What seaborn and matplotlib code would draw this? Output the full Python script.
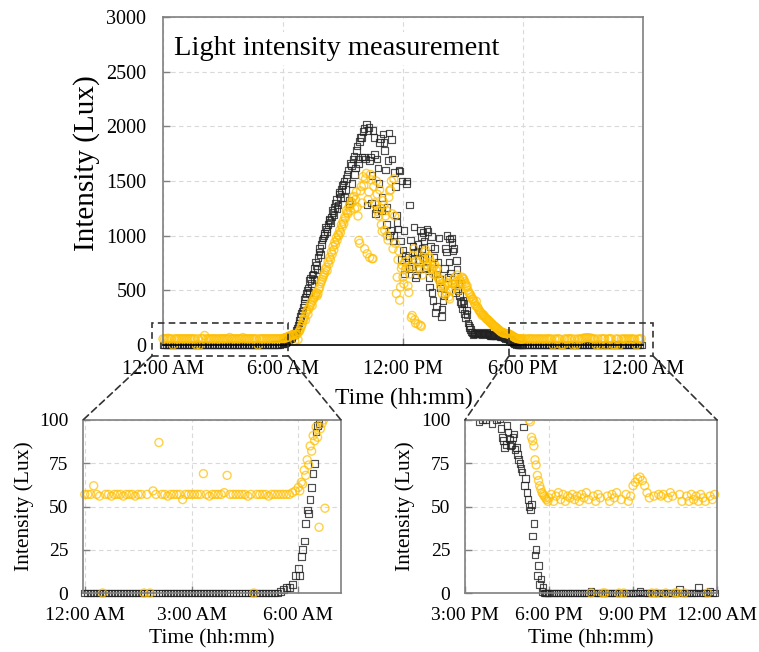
import numpy as np
import pandas as pd
import seaborn as sns
import matplotlib.pyplot as plt
from matplotlib.patches import Rectangle, ConnectionPatch

# sampling clock: one reading every 5 minutes over a day
minutes = np.arange(0, 24 * 60, 5)
# extra daytime readings, taken between the regular ones (6:00 AM - 6:00 PM)
minutes_extra = np.arange(6 * 60, 18 * 60, 5) + 2.5

# black squares, one row per hour (lux)
square_lux = [
    0, 0, 0, 0, 0, 0, 0, 0, 0, 0, 0, 0,
    0, 0, 0, 0, 0, 0, 0, 0, 0, 0, 0, 0,
    0, 0, 0, 0, 0, 0, 0, 0, 0, 0, 0, 0,
    0, 0, 0, 0, 0, 0, 0, 0, 0, 0, 0, 0,
    0, 0, 0, 0, 0, 0, 0, 0, 0, 0, 0, 0,
    0, 0, 0, 0, 0, 0, 1, 2, 3, 3, 5, 10,
    14, 21, 30, 48, 54, 69, 93, 98, 130, 180, 230, 290,
    340, 420, 470, 520, 590, 560, 650, 700, 730, 800, 880, 920,
    980, 1020, 1060, 1100, 1140, 1170, 1210, 1260, 1330, 1280, 1380, 1420,
    1470, 1350, 1520, 1600, 1290, 1640, 1700, 1560, 1780, 1700, 1860, 1900,
    1950, 1720, 2020, 1960, 1690, 1300, 1960, 1740, 1250, 1620, 1850, 1230,
    1930, 1780, 1100, 1690, 1000, 1880, 950, 1580, 1190, 1060, 1590, 780,
    870, 650, 1480, 800, 1280, 720, 900, 850, 640, 920, 780, 990,
    1030, 800, 710, 1040, 530, 990, 410, 880, 350, 760, 600, 260,
    410, 700, 850, 620, 970, 980, 860, 560, 770, 500, 450, 380,
    410, 290, 320, 200, 160, 120, 99, 105, 110, 100, 108, 102,
    110, 104, 112, 101, 90, 84, 97, 89, 86, 92, 84, 77,
    72, 96, 66, 54, 48, 33, 22, 10, 5, 1, 0, 0,
    0, 0, 0, 0, 0, 0, 0, 0, 0, 0, 0, 0,
    0, 0, 0, 0, 0, 0, 1, 0, 0, 0, 0, 0,
    0, 0, 0, 0, 0, 0, 0, 0, 0, 0, 0, 0,
    0, 0, 0, 1, 0, 0, 0, 0, 0, 0, 0, 0,
    0, 0, 0, 0, 0, 0, 0, 0, 2, 0, 0, 0,
    0, 0, 0, 0, 3, 0, 0, 0, 0, 1, 0, 0,
]

# yellow circles, one row per hour (lux)
circle_lux = [
    57, 57, 57, 62, 57, 56, 0, 57, 57, 56, 57, 57,
    57, 56, 57, 57, 57, 56, 57, 57, 0, 57, 0, 59,
    57, 87, 57, 57, 56, 57, 57, 57, 57, 54, 57, 57,
    57, 57, 57, 57, 69, 57, 56, 57, 57, 57, 57, 58,
    68, 57, 57, 57, 57, 57, 57, 56, 57, 0, 57, 57,
    57, 57, 56, 57, 57, 57, 57, 57, 57, 57, 58, 59,
    61, 64, 71, 77, 85, 91, 96, 38, 98, 49, 130, 170,
    220, 260, 300, 280, 350, 390, 410, 440, 480, 470, 530, 580,
    620, 660, 710, 760, 800, 850, 900, 940, 980, 1010, 1050, 1100,
    1130, 1170, 1230, 1200, 1280, 1310, 1350, 1250, 1400, 1180, 930, 1450,
    1540, 880, 1570, 1330, 800, 1510, 790, 1300, 1500, 1220, 1420, 1100,
    1320, 1050, 1230, 960, 1410, 1500, 880, 1180, 470, 780, 410, 700,
    620, 760, 710, 540, 650, 250, 820, 230, 770, 190, 690, 170,
    800, 850, 760, 720, 790, 700, 650, 740, 680, 620, 590, 560,
    600, 540, 480, 560, 420, 500, 560, 620, 580, 540, 600, 560,
    610, 580, 530, 500, 470, 440, 420, 380, 400, 340, 310, 290,
    280, 260, 240, 230, 215, 200, 185, 170, 160, 145, 130, 120,
    110, 108, 104, 102, 99, 88, 77, 68, 62, 58, 56, 54,
    55, 57, 53, 56, 58, 54, 57, 53, 56, 55, 57, 54,
    56, 53, 57, 55, 58, 54, 0, 56, 53, 57, 55, 0,
    0, 56, 53, 57, 55, 58, 0, 54, 0, 57, 53, 56,
    62, 64, 66, 67, 65, 62, 58, 55, 0, 56, 0, 57,
    56, 57, 0, 55, 58, 56, 0, 0, 57, 53, 0, 56,
    53, 57, 54, 56, 53, 57, 55, 53, 0, 56, 54, 57,
]

# extra daytime readings, one row per hour from 6 AM to 5 PM (lux)
square_extra = [
    10, 25, 40, 46, 61, 75, 97, 110, 150, 200, 260, 310,
    380, 440, 500, 480, 610, 640, 600, 760, 690, 850, 830, 960,
    1000, 1080, 1040, 1150, 1120, 1230, 1190, 1300, 1250, 1400, 1350, 1460,
    1500, 1420, 1560, 1320, 1660, 1480, 1730, 1620, 1820, 1660, 1900, 1720,
    1980, 1700, 1280, 1990, 1720, 1550, 1900, 1200, 1700, 1480, 1890, 1350,
    1850, 1600, 1260, 1940, 1050, 1700, 1000, 1450, 1120, 1600, 950, 1500,
    1050, 820, 1500, 700, 960, 780, 1080, 620, 850, 700, 1050, 880,
    950, 700, 1060, 620, 900, 480, 800, 300, 650, 980, 520, 330,
    450, 880, 1000, 760, 660, 940, 880, 480, 690, 560, 400, 330,
    380, 250, 280, 180, 140, 115, 102, 100, 106, 112, 103, 98,
    107, 100, 110, 95, 88, 86, 93, 85, 90, 83, 80, 75,
    70, 62, 58, 50, 51, 40, 25, 16, 8, 3, 0, 0,
]

circle_extra = [
    59, 63, 68, 74, 82, 88, 90, 95, 100, 120, 150, 190,
    240, 230, 320, 330, 370, 360, 430, 460, 450, 510, 560, 600,
    640, 690, 680, 740, 780, 830, 870, 920, 960, 1000, 1030, 1080,
    1110, 1160, 1210, 1260, 1230, 1300, 1360, 1330, 1260, 957, 1410, 1300,
    1460, 1520, 835, 1400, 1560, 789, 1450, 1280, 1380, 1180, 1250, 1040,
    1280, 1180, 1000, 1350, 1420, 1200, 1520, 930, 620, 860, 530, 730,
    560, 690, 770, 480, 720, 270, 880, 200, 710, 750, 180, 640,
    780, 870, 730, 810, 760, 690, 720, 640, 700, 600, 540, 470,
    520, 460, 570, 440, 500, 560, 600, 530, 640, 500, 580, 620,
    600, 560, 540, 480, 460, 420, 400, 360, 350, 320, 300, 270,
    270, 250, 235, 220, 205, 190, 175, 165, 150, 140, 125, 115,
    110, 105, 103, 100, 90, 85, 74, 65, 60, 57, 55, 53,
]

main_ticks = [0, 6, 12, 18, 24]
main_ticklabels = ["12:00 AM", "6:00 AM", "12:00 PM", "6:00 PM", "12:00 AM"]
left_ticks = [0, 3, 6]
left_ticklabels = ["12:00 AM", "3:00 AM", "6:00 AM"]
right_ticks = [15, 18, 21, 24]
right_ticklabels = ["3:00 PM", "6:00 PM", "9:00 PM", "12:00 AM"]

df = pd.concat([
    pd.DataFrame({"hour": minutes / 60.0, "square": square_lux, "circle": circle_lux}),
    pd.DataFrame({"hour": minutes_extra / 60.0, "square": square_extra, "circle": circle_extra}),
]).sort_values("hour")

sns.set_style("whitegrid")
plt.rcParams["font.family"] = ["Liberation Serif", "DejaVu Serif"]
plt.rcParams["text.color"] = "black"
plt.rcParams["axes.labelcolor"] = "black"

GRAY = "#808080"
DASH = (0, (4, 2.5))


def draw_points(ax):
    sns.scatterplot(data=df, x="hour", y="square", ax=ax, marker="s", s=23,
                    facecolor="none", edgecolor="#222222", linewidth=0.85, alpha=0.8)
    sns.scatterplot(data=df, x="hour", y="circle", ax=ax, marker="o", s=33,
                    facecolor="none", edgecolor="#ffbf00", linewidth=1.0, alpha=0.72)


def style_axes(ax, fs, xpad, ypad):
    ax.grid(True, linestyle=(0, (4, 3)), color="#d9d9d9", linewidth=0.8)
    ax.set_axisbelow(True)
    for sp in ax.spines.values():
        sp.set_color(GRAY)
        sp.set_linewidth(1.2)
    ax.tick_params(direction="in", length=5, color=GRAY, width=1,
                   left=True, bottom=True, labelsize=fs, labelcolor="black")
    ax.tick_params(axis="x", pad=xpad)
    ax.tick_params(axis="y", pad=ypad)


fig = plt.figure(figsize=(7.59, 6.52), dpi=100)
main = fig.add_axes([163 / 759, 1 - 345 / 652, 480 / 759, 328 / 652])
left = fig.add_axes([83 / 759, 1 - 593 / 652, 258 / 759, 173 / 652])
right = fig.add_axes([465 / 759, 1 - 593 / 652, 252 / 759, 173 / 652])

# main panel
draw_points(main)
for coll in main.collections:
    coll.set_clip_on(False)
main.set_xlim(0, 24)
main.set_ylim(0, 3000)
main.set_xticks(main_ticks)
main.set_xticklabels(main_ticklabels)
main.set_yticks(range(0, 3001, 500))
style_axes(main, 14.5, 11, 12)
main.spines["bottom"].set_color("black")
main.set_xlabel("Time (hh:mm)", fontsize=17)
main.set_ylabel("Intensity (Lux)", fontsize=21)
main.xaxis.set_label_coords(0.502, -0.13)
main.yaxis.set_label_coords(-0.131, 0.556)
main.text(0.022, 0.884, "Light intensity measurement", transform=main.transAxes,
          fontsize=20.5, va="baseline", zorder=5,
          bbox=dict(facecolor="white", edgecolor="none", pad=3))

# insets
for ax, lim, ticks, labels in [(left, (-0.05, 7.2), left_ticks, left_ticklabels),
                               (right, (15, 24), right_ticks, right_ticklabels)]:
    draw_points(ax)
    box = Rectangle((-0.03, -0.05), 1.06, 1.05, transform=ax.transAxes)
    for coll in ax.collections:
        coll.set_clip_path(box)
    ax.set_xlim(*lim)
    ax.set_ylim(0, 100)
    ax.set_xticks(ticks)
    ax.set_xticklabels(labels)
    ax.set_yticks([0, 25, 50, 75, 100])
    style_axes(ax, 14, 10, 10.5)
    ax.set_xlabel("Time (hh:mm)", fontsize=15.5)
    ax.set_ylabel("Intensity (Lux)", fontsize=15.5)
    ax.xaxis.set_label_coords(0.5, -0.21)
left.yaxis.set_label_coords(-0.19, 0.5)
right.yaxis.set_label_coords(-0.2, 0.5)

# zoom boxes and connectors
for (x0, x1), inset in [((-0.55, 6.27), left), ((17.3, 24.5), right)]:
    main.add_patch(Rectangle((x0, -100), x1 - x0, 300, fill=False, edgecolor="#333333",
                             linestyle=DASH, linewidth=1.2, clip_on=False, zorder=6))
    for xa, xb in [(x0, 0), (x1, 1)]:
        fig.add_artist(ConnectionPatch(xyA=(xa, -100), coordsA=main.transData,
                                       xyB=(xb, 1), coordsB=inset.transAxes,
                                       color="#333333", linestyle=DASH, linewidth=1.2))

plt.savefig("out.png", dpi=100)
plt.close()
